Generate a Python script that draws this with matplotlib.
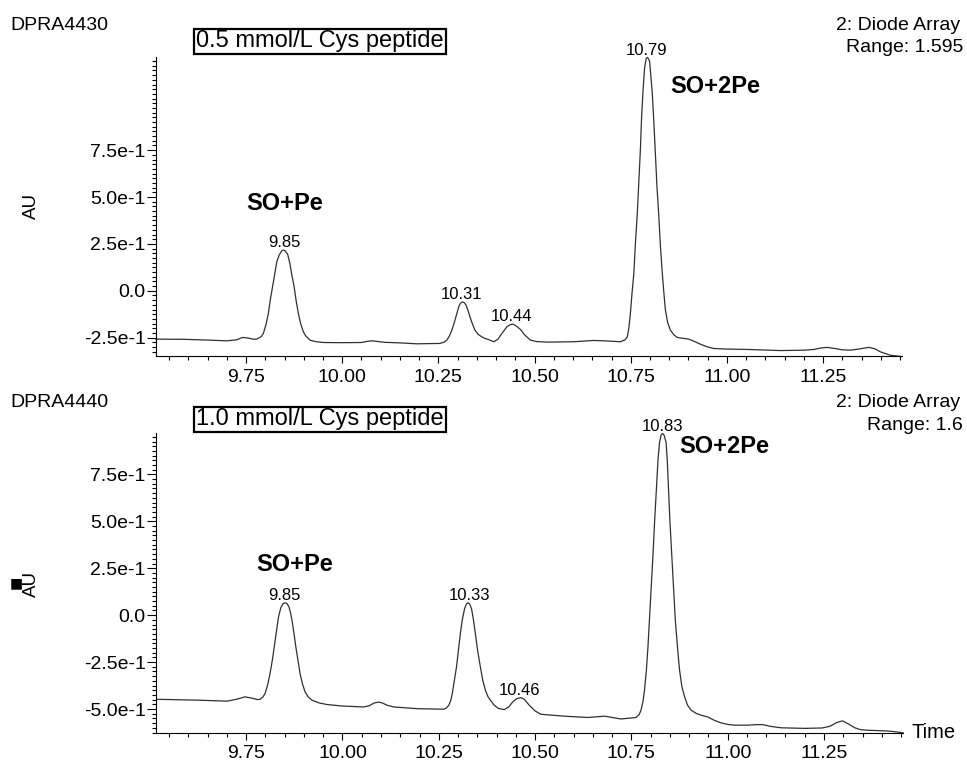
import numpy as np
import matplotlib
matplotlib.use('Agg')
import matplotlib.pyplot as plt
from matplotlib.ticker import MultipleLocator

plt.rcParams['font.family'] = ['Liberation Sans', 'DejaVu Sans']

# --- trace (time in min, AU)
top_t = [9.516, 9.587, 9.650, 9.700, 9.725, 9.741, 9.755, 9.768, 9.778, 9.789, 9.795,
         9.802, 9.808, 9.813, 9.819, 9.825, 9.830, 9.836, 9.843, 9.847, 9.851, 9.858,
         9.864, 9.869, 9.875, 9.880, 9.886, 9.892, 9.899, 9.905, 9.916, 9.930, 9.951,
         10.000, 10.050, 10.065, 10.077, 10.090, 10.110, 10.150, 10.194, 10.254, 10.265,
         10.272, 10.279, 10.285, 10.292, 10.298, 10.303, 10.306, 10.310, 10.313, 10.317,
         10.322, 10.327, 10.332, 10.339, 10.345, 10.353, 10.363, 10.372, 10.380, 10.394,
         10.405, 10.415, 10.428, 10.436, 10.442, 10.448, 10.455, 10.463, 10.475, 10.489,
         10.505, 10.533, 10.602, 10.630, 10.654, 10.690, 10.723, 10.735, 10.741, 10.745,
         10.749, 10.753, 10.758, 10.762, 10.767, 10.771, 10.775, 10.778, 10.782, 10.786,
         10.790, 10.793, 10.796, 10.799, 10.802, 10.806, 10.810, 10.814, 10.818, 10.823,
         10.827, 10.832, 10.836, 10.840, 10.846, 10.853, 10.862, 10.871, 10.880, 10.901,
         10.915, 10.931, 10.950, 10.966, 11.000, 11.052, 11.100, 11.139, 11.200, 11.226,
         11.245, 11.260, 11.280, 11.300, 11.321, 11.345, 11.369, 11.385, 11.399, 11.425,
         11.455]
top_au = [-0.258, -0.259, -0.263, -0.267, -0.262, -0.249, -0.252, -0.258, -0.258, -0.245, -0.228,
          -0.180, -0.121, -0.050, 0.022, 0.095, 0.155, 0.190, 0.213, 0.217, 0.214, 0.196,
          0.146, 0.085, 0.022, -0.050, -0.121, -0.175, -0.219, -0.240, -0.263, -0.271, -0.276,
          -0.277, -0.276, -0.270, -0.267, -0.270, -0.275, -0.278, -0.283, -0.281, -0.274,
          -0.263, -0.240, -0.210, -0.165, -0.121, -0.085, -0.071, -0.062, -0.060, -0.063,
          -0.077, -0.105, -0.139, -0.180, -0.210, -0.232, -0.246, -0.255, -0.260, -0.272,
          -0.258, -0.228, -0.192, -0.182, -0.178, -0.182, -0.192, -0.206, -0.237, -0.263,
          -0.271, -0.274, -0.272, -0.268, -0.265, -0.268, -0.272, -0.262, -0.246, -0.200,
          -0.121, -0.020, 0.093, 0.250, 0.413, 0.580, 0.752, 0.920, 1.072, 1.190,
          1.238, 1.245, 1.238, 1.223, 1.150, 1.054, 0.900, 0.734, 0.560, 0.395,
          0.240, 0.093, -0.010, -0.103, -0.170, -0.210, -0.235, -0.249, -0.252, -0.258,
          -0.270, -0.285, -0.300, -0.308, -0.311, -0.313, -0.316, -0.319, -0.317, -0.313,
          -0.305, -0.302, -0.308, -0.315, -0.317, -0.310, -0.302, -0.310, -0.326, -0.344,
          -0.351]

# --- trace
bot_t = [9.518, 9.630, 9.700, 9.725, 9.747, 9.765, 9.780, 9.786, 9.793, 9.799, 9.806,
         9.812, 9.818, 9.823, 9.829, 9.834, 9.840, 9.846, 9.851, 9.856, 9.861, 9.865,
         9.869, 9.874, 9.879, 9.885, 9.890, 9.896, 9.903, 9.911, 9.921, 9.940, 9.960,
         10.000, 10.055, 10.070, 10.082, 10.094, 10.104, 10.116, 10.133, 10.194, 10.263,
         10.270, 10.276,
         10.281, 10.285, 10.290, 10.296, 10.301, 10.306, 10.311, 10.317, 10.322, 10.326,
         10.330, 10.335, 10.340, 10.345, 10.351, 10.358, 10.364, 10.371, 10.378, 10.384,
         10.394, 10.405, 10.420, 10.432, 10.442, 10.452, 10.463, 10.472, 10.485, 10.500,
         10.515, 10.576, 10.637, 10.680, 10.723, 10.762, 10.770, 10.775, 10.780, 10.784,
         10.789, 10.793, 10.797, 10.801, 10.806, 10.810, 10.815, 10.819, 10.823, 10.827,
         10.831, 10.835, 10.840, 10.843, 10.846, 10.850, 10.855, 10.860, 10.864, 10.870,
         10.875, 10.881, 10.888, 10.896, 10.905, 10.918, 10.931, 10.948, 10.965, 10.983,
         11.000, 11.018, 11.052, 11.075, 11.091, 11.110, 11.139, 11.200, 11.245, 11.265,
         11.283, 11.298, 11.312, 11.330, 11.345, 11.364, 11.416, 11.440, 11.455]
bot_au = [-0.448, -0.453, -0.458, -0.448, -0.435, -0.442, -0.450, -0.448, -0.437, -0.418, -0.370,
          -0.311, -0.240, -0.169, -0.085, -0.009, 0.040, 0.062, 0.066, 0.062, 0.045, 0.015,
          -0.027, -0.095, -0.169, -0.245, -0.311, -0.365, -0.409, -0.435, -0.453, -0.468, -0.476,
          -0.484, -0.489, -0.482, -0.468, -0.463, -0.468, -0.480, -0.489, -0.498, -0.501,
          -0.494, -0.480,
          -0.455, -0.418, -0.355, -0.276, -0.185, -0.098, -0.025, 0.035, 0.060, 0.066,
          0.060, 0.035, -0.025, -0.098, -0.190, -0.276, -0.345, -0.400, -0.435, -0.453,
          -0.480, -0.497, -0.503, -0.488, -0.462, -0.445, -0.439, -0.448, -0.480, -0.510,
          -0.528, -0.538, -0.545, -0.538, -0.553, -0.545, -0.530, -0.506, -0.460, -0.400,
          -0.290, -0.169, -0.020, 0.133, 0.320, 0.489, 0.680, 0.826, 0.920, 0.960,
          0.968, 0.958, 0.920, 0.830, 0.684, 0.500, 0.311, 0.130, -0.027, -0.180,
          -0.293, -0.380, -0.435, -0.480, -0.506, -0.523, -0.533, -0.542, -0.560, -0.574,
          -0.582, -0.586, -0.586, -0.583, -0.583, -0.592, -0.600, -0.603, -0.601, -0.592,
          -0.572, -0.563, -0.578, -0.600, -0.610, -0.613, -0.617, -0.622, -0.627]

top_peaks = ['9.85', '10.31', '10.44', '10.79']
bot_peaks = ['9.85', '10.33', '10.46', '10.83']

top_yticks = [-0.25, 0.0, 0.25, 0.5, 0.75]
top_ylabels = ['-2.5e-1', '0.0', '2.5e-1', '5.0e-1', '7.5e-1']
bot_yticks = [-0.5, -0.25, 0.0, 0.25, 0.5, 0.75]
bot_ylabels = ['-5.0e-1', '-2.5e-1', '0.0', '2.5e-1', '5.0e-1', '7.5e-1']
xticks = [9.75, 10.0, 10.25, 10.5, 10.75, 11.0, 11.25]
xlabels = [f'{v:.2f}' for v in xticks]

W, H = 967, 763
fig = plt.figure(figsize=(W / 100, H / 100), dpi=100)


def fx(x):
    return x / W


def fy(y):
    return 1 - y / H


panels = [
    dict(t=top_t, au=top_au, peaks=top_peaks, yticks=top_yticks, ylabels=top_ylabels,
         ylim=(-0.348, 1.247), rect=[fx(156), fy(356), fx(746), 299 / H],
         name='DPRA4430', box='0.5 mmol/L Cys peptide', rng='Range: 1.595',
         so=(9.850, 0.468), so2=(10.969, 1.088), yoff=0),
    dict(t=bot_t, au=bot_au, peaks=bot_peaks, yticks=bot_yticks, ylabels=bot_ylabels,
         ylim=(-0.625, 0.969), rect=[fx(156), fy(732.5), fx(747), 299.2 / H],
         name='DPRA4440', box='1.0 mmol/L Cys peptide', rng='Range: 1.6',
         so=(9.875, 0.272), so2=(10.991, 0.897), yoff=378),
]

for p in panels:
    ax = fig.add_axes(p['rect'])
    t = np.array(p['t'])
    au = np.array(p['au'])
    ax.plot(t, au, color='#303030', lw=0.9, solid_joinstyle='round', clip_on=False)

    ax.set_xlim(9.516, 11.455)
    ax.set_ylim(*p['ylim'])
    for s in ['top', 'right']:
        ax.spines[s].set_visible(False)
    for s in ['left', 'bottom']:
        ax.spines[s].set_linewidth(0.8)

    ax.set_xticks(xticks, xlabels)
    ax.xaxis.set_minor_locator(MultipleLocator(0.05))
    ax.set_yticks(p['yticks'], p['ylabels'])
    ax.yaxis.set_minor_locator(MultipleLocator(0.025))
    ax.tick_params(axis='y', which='major', length=6.5, width=0.8, pad=1, labelsize=14)
    ax.tick_params(axis='y', which='minor', length=3, width=0.8)
    ax.tick_params(axis='x', which='major', length=5, width=0.8, pad=4, labelsize=14)
    ax.tick_params(axis='x', which='minor', length=3, width=0.8)

    # retention time labels over each peak
    for lab in p['peaks']:
        rt = float(lab)
        near = np.abs(t - rt) < 0.02
        top = au[near].max()
        ax.annotate(lab, (rt, top), xytext=(0, 2), textcoords='offset points',
                    ha='center', va='baseline', fontsize=12)

    ax.text(*p['so'], 'SO+Pe', fontsize=17, fontweight='bold', ha='center', va='center')
    ax.text(*p['so2'], 'SO+2Pe', fontsize=17, fontweight='bold', ha='center', va='center')

    o = p['yoff']
    fig.text(fx(10), fy(25 + o), p['name'], fontsize=14, va='center', ha='left')
    fig.text(fx(196), fy(41.5 + o), p['box'], fontsize=17, va='center', ha='left',
             bbox=dict(boxstyle='square,pad=0.08', fc='white', ec='black', lw=1.6))
    fig.text(fx(960), fy(25 + o), '2: Diode Array', fontsize=14, va='center', ha='right')
    fig.text(fx(963), fy(48 + o), p['rng'], fontsize=14, va='center', ha='right')
    fig.text(fx(31), fy(206 + o), 'AU', fontsize=13.5, rotation=90, va='center', ha='center')

fig.text(fx(16.5), fy(583), '\u25a0', fontsize=10, va='center', ha='center',
         family=['DejaVu Sans'])
fig.text(fx(912), fy(733), 'Time', fontsize=14.5, va='center', ha='left')

plt.savefig('out.png', dpi=100)
